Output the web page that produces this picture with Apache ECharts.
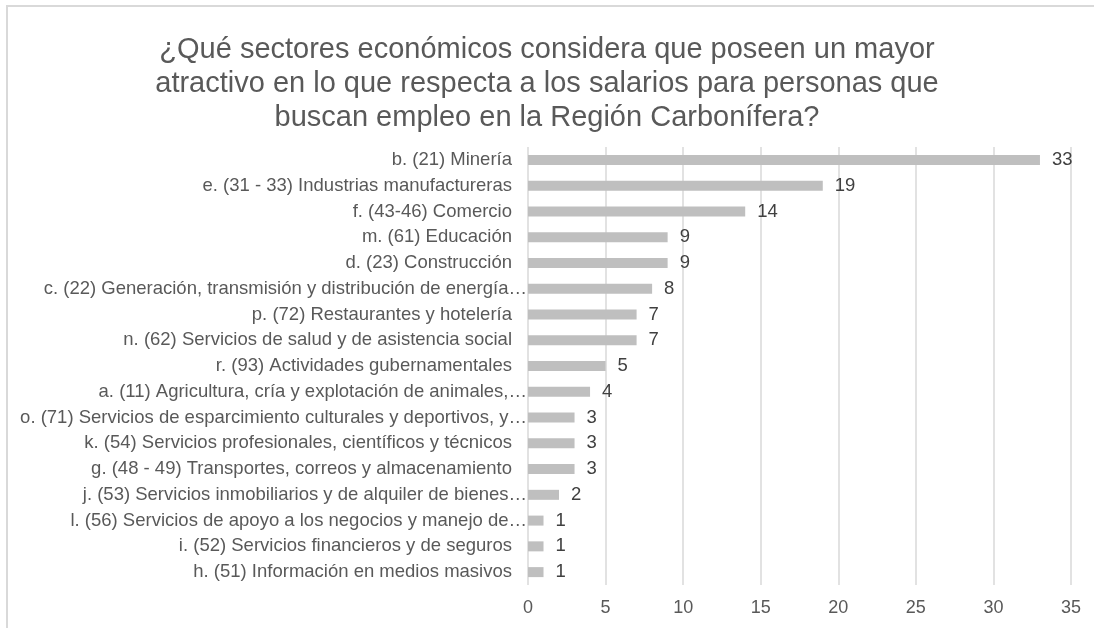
<!DOCTYPE html>
<html>
<head>
<meta charset="utf-8">
<script src="https://cdn.jsdelivr.net/npm/echarts@6/dist/echarts.min.js"></script>
<style>
  html, body { margin: 0; padding: 0; background: #fff; }
  #wrap { position: relative; width: 1094px; height: 628px; overflow: hidden; }
  #frame { position: absolute; left: 6px; top: 5px; width: 1200px; height: 700px;
           border-top: 2px solid #d9d9d9; border-left: 2px solid #d9d9d9; }
  #main { position: absolute; left: 0; top: 0; width: 1094px; height: 628px; }
</style>
</head>
<body>
<div id="wrap">
  <div id="frame"></div>
  <div id="main"></div>
</div>
<script>
var tituloLineas = [
  '¿Qué sectores económicos considera que poseen un mayor',
  'atractivo en lo que respecta a los salarios para personas que',
  'buscan empleo en la Región Carbonífera?'
];
var sectores = [
  'b. (21) Minería',
  'e. (31 - 33) Industrias manufactureras',
  'f. (43-46) Comercio',
  'm. (61) Educación',
  'd. (23) Construcción',
  'c. (22) Generación, transmisión y distribución de energía…',
  'p. (72) Restaurantes y hotelería',
  'n. (62) Servicios de salud y de asistencia social',
  'r. (93) Actividades gubernamentales',
  'a. (11) Agricultura, cría y explotación de animales,…',
  'o. (71) Servicios de esparcimiento culturales y deportivos, y…',
  'k. (54) Servicios profesionales, científicos y técnicos',
  'g. (48 - 49) Transportes, correos y almacenamiento',
  'j. (53) Servicios inmobiliarios y de alquiler de bienes…',
  'l. (56) Servicios de apoyo a los negocios y manejo de…',
  'i. (52) Servicios financieros y de seguros',
  'h. (51) Información en medios masivos'
];
var respuestas = [33, 19, 14, 9, 9, 8, 7, 7, 5, 4, 3, 3, 3, 2, 1, 1, 1];

var fuente = '"Liberation Sans", Arial, sans-serif';
var myChart = echarts.init(document.getElementById('main'));
myChart.setOption({
    animation: false,
    title: {
        text: tituloLineas.join('\n'),
        left: 'center',
        top: 28,
        padding: [5, 0, 5, 8],
        textStyle: {
            fontFamily: fuente,
            fontSize: 29,
            fontWeight: 'normal',
            color: '#595959',
            lineHeight: 34
        }
    },
    grid: {
        left: 528,
        right: 23,
        top: 147,
        bottom: 43,
        containLabel: false
    },
    xAxis: {
        type: 'value',
        min: 0,
        max: 35,
        interval: 5,
        axisLine: { show: false },
        axisTick: { show: false },
        splitLine: { lineStyle: { color: '#d9d9d9', width: 1.5 } },
        axisLabel: {
            fontFamily: fuente,
            fontSize: 18,
            color: '#595959',
            margin: 14
        }
    },
    yAxis: {
        type: 'category',
        inverse: true,
        data: sectores,
        axisLine: { show: false },
        axisTick: { show: false },
        axisLabel: {
            margin: 1,
            // las etiquetas truncadas llegan hasta el eje
            formatter: function (v) {
                return v.slice(-1) === '…' ? '{c|' + v + '}' : '{n|' + v + '}';
            },
            rich: {
                n: { fontFamily: fuente, fontSize: 18.5, color: '#595959', padding: [0, 15, 0, 0] },
                c: { fontFamily: fuente, fontSize: 18.5, color: '#595959' }
            }
        }
    },
    series: [{
        name: 'Respuestas',
        type: 'bar',
        data: respuestas,
        barWidth: 10,
        itemStyle: { color: '#bfbfbf' },
        label: {
            show: true,
            position: 'right',
            distance: 12,
            fontFamily: fuente,
            fontSize: 18.5,
            color: '#404040'
        }
    }]
});
</script>
</body>
</html>
